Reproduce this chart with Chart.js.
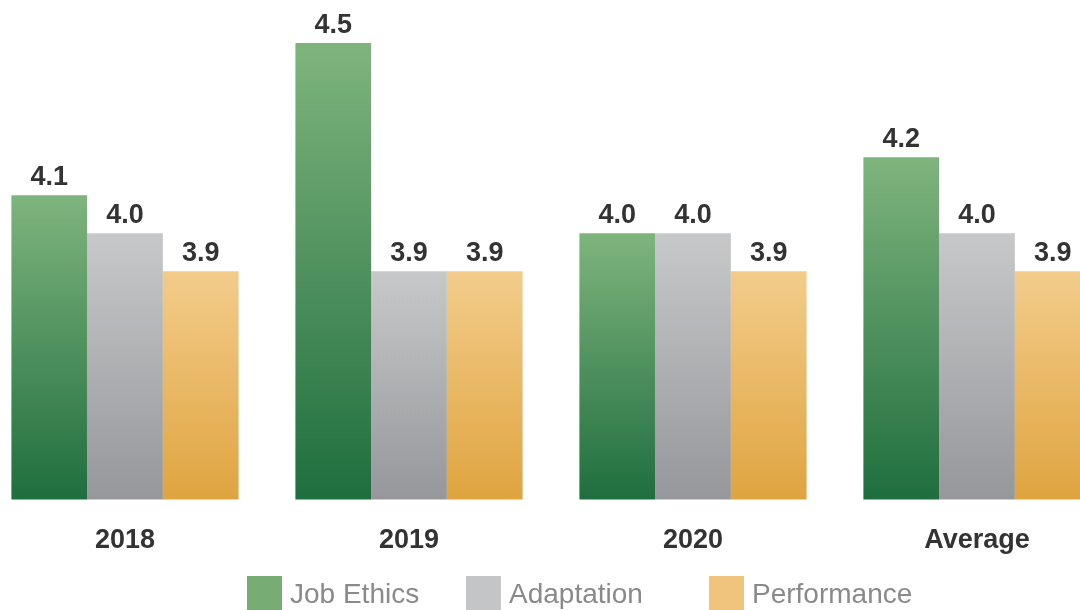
<!DOCTYPE html>
<html>
<head>
<meta charset="utf-8">
<script src="https://cdn.jsdelivr.net/npm/chart.js@4"></script>
<style>
  html, body { margin: 0; padding: 0; width: 1080px; height: 610px; overflow: hidden; background: #fff; }
  #wrap { position: absolute; left: -17px; top: 0; width: 1136px; height: 610px; }
</style>
</head>
<body>
<div id="wrap"><canvas id="c"></canvas></div>
<script>
const categories = ['2018', '2019', '2020', 'Average'];
const seriesNames = ['Job Ethics', 'Adaptation', 'Performance'];
const jobEthics = [4.1, 4.5, 4.0, 4.2];
const adaptation = [4.0, 3.9, 4.0, 4.0];
const performance = [3.9, 3.9, 3.9, 3.9];

const gradTop = ['#7fb47d', '#c6c8ca', '#f3cc8b'];
const gradBottom = ['#1f6e3e', '#95979a', '#dfa43f'];
const legendColors = ['#78ac75', '#c3c5c7', '#f0c47d'];
const FONT = '"Liberation Sans", Arial, sans-serif';

function gradientFor(i) {
  return function (c) {
    const chart = c.chart;
    const area = chart.chartArea;
    if (!area || c.raw === undefined) return gradTop[i];
    const top = chart.scales.y.getPixelForValue(c.raw);
    const g = chart.ctx.createLinearGradient(0, top, 0, area.bottom);
    g.addColorStop(0, gradTop[i]);
    g.addColorStop(1, gradBottom[i]);
    return g;
  };
}

const valueLabels = {
  id: 'valueLabels',
  afterDatasetsDraw(chart) {
    const ctx = chart.ctx;
    ctx.save();
    ctx.font = 'bold 27px ' + FONT;
    ctx.fillStyle = '#333333';
    ctx.textAlign = 'center';
    ctx.textBaseline = 'alphabetic';
    chart.data.datasets.forEach((ds, di) => {
      const meta = chart.getDatasetMeta(di);
      meta.data.forEach((bar, i) => {
        ctx.fillText(ds.data[i].toFixed(1), bar.x, bar.y - 10);
      });
    });
    ctx.restore();
  }
};

const customLegend = {
  id: 'customLegend',
  afterDraw(chart, args, opts) {
    const ctx = chart.ctx;
    ctx.save();
    ctx.font = '28px ' + FONT;
    ctx.textBaseline = 'alphabetic';
    ctx.textAlign = 'left';
    chart.data.datasets.forEach((ds, i) => {
      const x = opts.x[i];
      ctx.fillStyle = legendColors[i];
      ctx.fillRect(x, opts.boxTop, opts.boxW, opts.boxH);
      ctx.fillStyle = '#8a8a8a';
      ctx.fillText(ds.label, x + opts.boxW + 8, opts.textBase);
    });
    ctx.restore();
  }
};

new Chart(document.getElementById('c'), {
  type: 'bar',
  data: {
    labels: categories,
    datasets: [
      { label: seriesNames[0], data: jobEthics, backgroundColor: gradientFor(0) },
      { label: seriesNames[1], data: adaptation, backgroundColor: gradientFor(1) },
      { label: seriesNames[2], data: performance, backgroundColor: gradientFor(2) }
    ]
  },
  options: {
    responsive: true,
    maintainAspectRatio: false,
    animation: false,
    layout: { padding: { top: 5, bottom: 28, left: 0, right: 0 } },
    datasets: { bar: { barPercentage: 1.0, categoryPercentage: 0.8, borderWidth: 0 } },
    scales: {
      x: {
        grid: { display: false, drawTicks: false },
        border: { display: false },
        ticks: { font: { family: FONT, size: 27, weight: 'bold' }, color: '#333333', padding: 25 }
      },
      y: { display: false, min: 3.3, max: 4.6 }
    },
    plugins: {
      legend: { display: false },
      tooltip: { enabled: false },
      customLegend: { x: [264, 483, 726], boxTop: 576, boxW: 35, boxH: 34, textBase: 603 }
    }
  },
  plugins: [valueLabels, customLegend]
});
</script>
</body>
</html>
